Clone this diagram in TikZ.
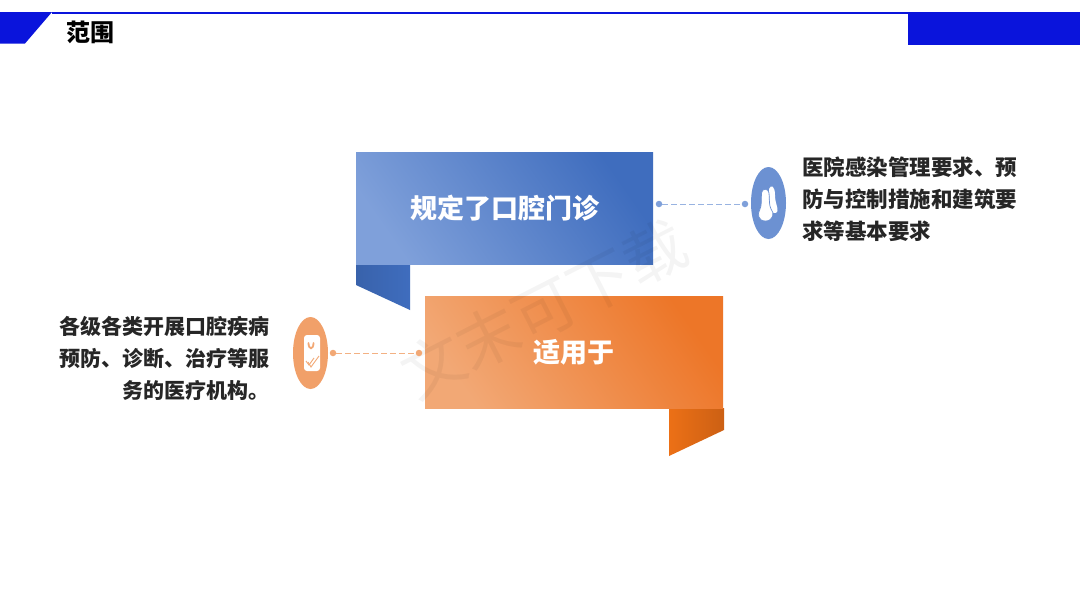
\documentclass[tikz,border=0pt]{standalone}
\usepackage{xcolor}
\usepackage{fontspec}
\usetikzlibrary{positioning,calc,shapes.geometric}
\newfontfamily\cjk{Noto Sans CJK SC}
\definecolor{barblue}{HTML}{0A14DC}
\definecolor{darktext}{HTML}{262626}
\definecolor{softblue}{HTML}{7FA0DA}
\definecolor{deepblue}{HTML}{3F6DBE}
\definecolor{softorange}{HTML}{F2A875}
\definecolor{deeporange}{HTML}{ED7628}
\definecolor{tailorange}{HTML}{EC7016}
\definecolor{tailshade}{HTML}{CC6014}

\begin{document}
\begin{tikzpicture}[
    x=1pt, y=-1pt,
    panel/.style={minimum width=298pt, minimum height=112.5pt, inner sep=0pt, text=white, font=\cjk\bfseries\fontsize{27}{32}\selectfont},
    badge/.style={ellipse, minimum width=35pt, minimum height=72pt, inner sep=0pt},
    enddot/.style={circle, minimum size=6.5pt, inner sep=0pt},
    notes/.style={inner sep=0pt, text=darktext, font=\cjk\bfseries\fontsize{21}{32}\selectfont},
    dashline/.style={dashed, dash pattern=on 5.5pt off 3.5pt, line width=1pt}
]
\useasboundingbox (0,0) rectangle (1080,608);
\fill[white] (0,0) rectangle (1080,608);

% top bar
\fill[barblue] (0,12) -- (52,12) -- (25,43.5) -- (0,43.5) -- cycle;
\fill[barblue] (52,12) rectangle (908,14);
\fill[barblue] (908,12) rectangle (1080,45);
\node[inner sep=0pt, font=\cjk\bfseries\fontsize{24}{28}\selectfont, text=black] (title) at (90,32) {范围};

% ribbon tails
\shade[left color=deepblue!90!black, right color=deepblue] (356,264) -- (410,264) -- (410,310) -- (356,285) -- cycle;
\shade[left color=tailorange, right color=tailshade] (669,408) -- (724,408) -- (724,430) -- (669,456) -- cycle;

% panels
\node[panel, minimum width=297pt, minimum height=112pt, left color=softblue, right color=deepblue, shading angle=125] (scope) at (504.5,208) {规定了口腔门诊};
\node[panel, left color=softorange, right color=deeporange, shading angle=125] (applies) at (574,352.3) {适用于};

% watermark
\node[rotate=27, inner sep=0pt, text=black, opacity=0.045, font=\cjk\fontsize{62}{62}\selectfont] (mark) at (544,309) {文末可下载};

% blue side
\node[badge, fill=softblue!70!deepblue] (bluebadge) at (768.5,203) {};
\node[enddot, fill=softblue] (bluea) at (659,204) {};
\node[enddot, fill=softblue] (blueb) at (745,204) {};
\draw[dashline, softblue!80!white] (bluea) -- (blueb);
\fill[white] (769,189) .. controls (771,184) and (775,186) .. (775,195) .. controls (775,203) and (778,207) .. (777.5,211) .. controls (776,215) and (772,213) .. (770,209) -- cycle;
\draw[softblue!70!deepblue, fill=white, line width=0.7pt] (761.5,193) .. controls (762,188) and (768.5,188) .. (769,193) .. controls (769.5,200) and (769,205) .. (771,209) .. controls (775,213) and (773,221) .. (765.5,221) .. controls (758,221) and (757,214) .. (760,209) .. controls (762,205) and (761,200) .. (761.5,193) -- cycle;
\node[notes, font=\cjk\bfseries\fontsize{21.5}{32}\selectfont, align=left, anchor=west] (bluenote) at (802,199) {医院感染管理要求、预\\防与控制措施和建筑要\\求等基本要求};

% orange side
\node[badge, fill=softorange!85!deeporange] (orangebadge) at (310.5,353) {};
\node[enddot, fill=softorange] (orangea) at (333,353) {};
\node[enddot, fill=softorange] (orangeb) at (419,353) {};
\draw[dashline, softorange!90!white] (orangea) -- (orangeb);
\fill[white, rounded corners=3pt] (304,335) -- (320,335) -- (320,371) -- (304,371) -- cycle;
\draw[softorange, line width=1.8pt, line cap=round] (308.5,343) .. controls (308.5,350) and (313.5,350) .. (313.5,343);
\draw[softorange, line width=0.9pt] (308,362) -- (311,367) -- (319,356);
\draw[softorange, line width=0.9pt] (306,361) -- (309,365) -- (314,358);
\node[notes, align=right, anchor=east] (orangenote) at (269.5,358.5) {各级各类开展口腔疾病\\预防、诊断、治疗等服\\务的医疗机构。};
\end{tikzpicture}
\end{document}
